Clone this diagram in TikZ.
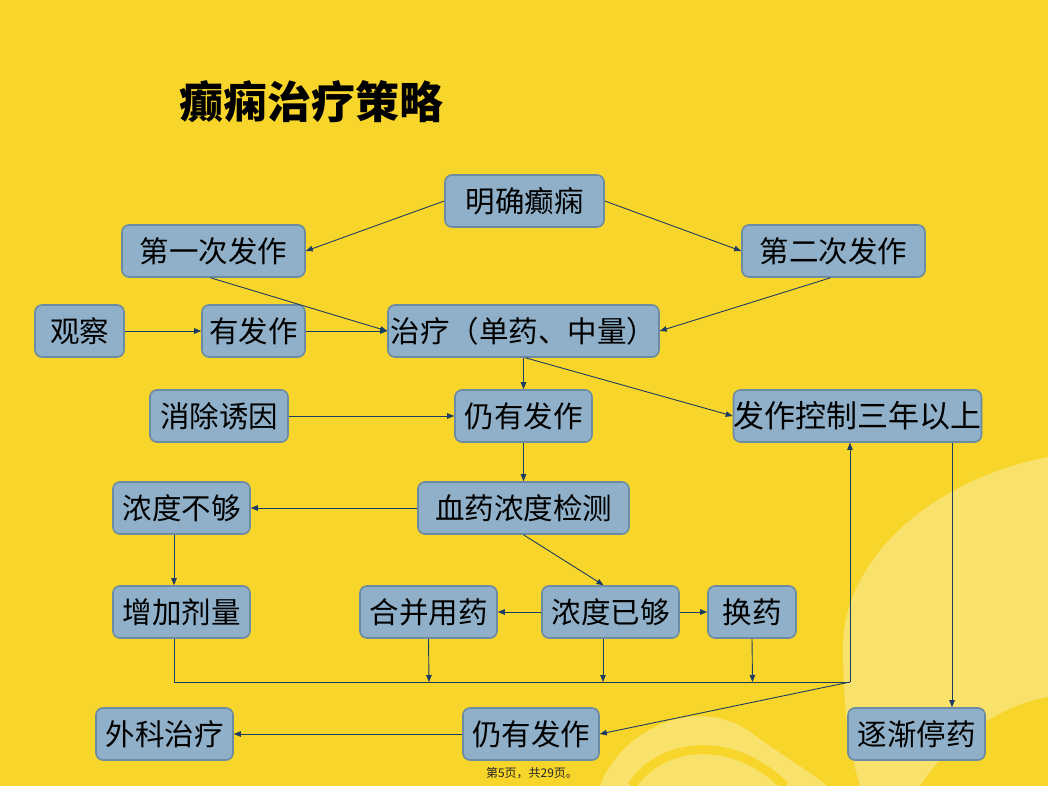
\documentclass[tikz,border=0pt]{standalone}
\usepackage{fontspec}
\newfontfamily\cjk{Noto Sans CJK SC}
\usetikzlibrary{arrows.meta}
\definecolor{bgyellow}{HTML}{F8D52A}
\definecolor{lightyellow}{HTML}{F9E26C}
\definecolor{boxfill}{HTML}{8FB0C8}
\definecolor{boxline}{HTML}{6B8AA3}
\definecolor{arrowc}{HTML}{1C3D62}
\tikzset{
  box/.style={draw=boxline, fill=boxfill, line width=1.6pt, rounded corners=7pt,
    inner sep=0pt, minimum height=52pt, text=black,
    font=\cjk\fontsize{29.5}{29.5}\selectfont},
  conn/.style={draw=arrowc, line width=0.9pt},
  arr/.style={conn, -{Triangle[length=7pt,width=5.5pt]}},
}
\begin{document}
\begin{tikzpicture}[x=1pt,y=-1pt]
\fill[bgyellow] (0,0) rectangle (1048,786);
\useasboundingbox (0,0) rectangle (1048,786);
% background swirls
\fill[lightyellow] (1048,457) .. controls (930,480) and (843,560) .. (843,647)
  .. controls (843,720) and (852,760) .. (860,786) -- (920,786)
  .. controls (950,740) and (1000,705) .. (1048,697) -- cycle;
\fill[lightyellow] (600,786) .. controls (620,730) and (700,690) .. (757,737)
  .. controls (785,757) and (815,775) .. (827,786) -- cycle;
\draw[bgyellow, line width=9pt] (632,786) .. controls (655,748) and (725,728) .. (785,786);
% title
\node[font=\cjk\bfseries\fontsize{44}{44}\selectfont, text=black] (title) at (311,102) {癫痫治疗策略};
% nodes
\node[box, minimum width=159pt] (mq) at (524.5,201) {明确癫痫};
\node[box, minimum width=183pt] (d1) at (213.5,251) {第一次发作};
\node[box, minimum width=183pt] (d2) at (833.5,251) {第二次发作};
\node[box, minimum width=89pt] (gc) at (79.5,331) {观察};
\node[box, minimum width=103pt] (yf) at (253.5,331) {有发作};
\node[box, minimum width=271pt] (zl) at (523.5,331) {治疗（单药、中量）};
\node[box, minimum width=138pt] (xc) at (219,416) {消除诱因};
\node[box, minimum width=137pt] (ry1) at (523.5,416) {仍有发作};
\node[box, minimum width=243pt, font=\cjk\fontsize{31}{31}\selectfont] (kz) at (857.5,416) {发作控制三年以上};
\node[box, minimum width=137pt] (bg) at (181.5,508) {浓度不够};
\node[box, minimum width=211pt] (xy) at (523.5,508) {血药浓度检测};
\node[box, minimum width=137pt] (zj) at (181.5,612) {增加剂量};
\node[box, minimum width=137pt] (hb) at (428.5,612) {合并用药};
\node[box, minimum width=137pt] (yg) at (610.5,612) {浓度已够};
\node[box, minimum width=88pt] (hy) at (752,612) {换药};
\node[box, minimum width=137pt] (wk) at (164.5,734) {外科治疗};
\node[box, minimum width=136pt] (ry2) at (531,734) {仍有发作};
\node[box, minimum width=137pt] (tz) at (916.5,734) {逐渐停药};
% footer
\node[font=\cjk\fontsize{12}{12}\selectfont, text=black!85] (foot) at (532,773) {第5页，共29页。};
% coordinates
\coordinate (bl) at (174,682);
\coordinate (br) at (850,682);
\coordinate (c1) at (429,682);
\coordinate (c2) at (603,682);
\coordinate (c3) at (752.5,682);
% connectors
\draw[arr] (mq.west) -- (d1.east);
\draw[arr] (mq.east) -- (d2.west);
\draw[arr] ([xshift=-3pt]d1.south) -- (zl.west);
\draw[arr] ([xshift=-3pt]d2.south) -- (zl.east);
\draw[arr] (gc.east) -- (yf.west);
\draw[arr] (yf.east) -- (zl.west);
\draw[arr] (zl.south) -- (ry1.north);
\draw[arr] ([xshift=2pt]zl.south) -- (kz.west);
\draw[arr] (xc.east) -- (ry1.west);
\draw[arr] (ry1.south) -- (xy.north);
\draw[arr] (xy.west) -- (bg.east);
\draw[arr] (xy.south) -- ([xshift=-7pt]yg.north);
\draw[arr] ([xshift=-7.5pt]bg.south) -- ([xshift=-7.5pt]zj.north);
\draw[arr] (yg.west) -- (hb.east);
\draw[arr] (yg.east) -- (hy.west);
\draw[arr] (hb.south) -- (c1);
\draw[arr] ([xshift=-7.5pt]yg.south) -- (c2);
\draw[arr] (hy.south) -- (c3);
\draw[conn] ([xshift=-7.5pt]zj.south) -- (bl) -- (br);
\draw[arr] (br) -- ([xshift=-7.5pt]kz.south);
\draw[arr] (br) -- (ry2.east);
\draw[arr] ([xshift=94.5pt]kz.south) -- ([xshift=35.5pt]tz.north);
\draw[arr] (ry2.west) -- (wk.east);
\end{tikzpicture}
\end{document}
